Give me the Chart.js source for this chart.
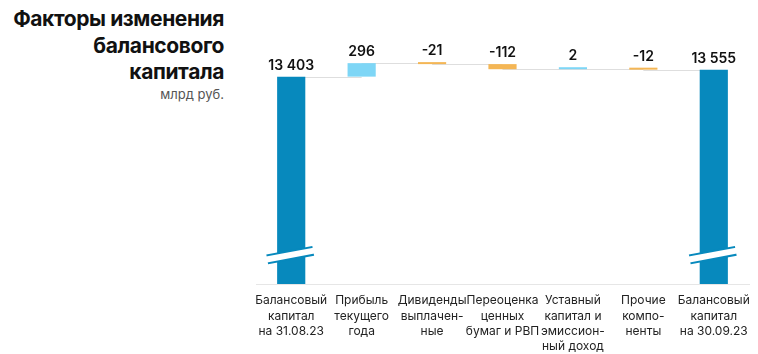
<!DOCTYPE html>
<html>
<head>
<meta charset="utf-8">
<script src="https://cdn.jsdelivr.net/npm/chart.js@4"></script>
<style>
  html, body { margin: 0; padding: 0; background: #fff; }
  #wrap { position: relative; width: 758px; height: 354px; }
  #title { position: absolute; right: 534px; top: 6px; text-align: right; white-space: nowrap;
           font: 700 21px Inter, sans-serif; line-height: 26.5px; color: #111; letter-spacing: -0.4px; }
  #unit { position: absolute; right: 534px; top: 86px; white-space: nowrap;
          font: 13px Inter, sans-serif; color: #555; }
  canvas { position: absolute; left: 0; top: 0; }
</style>
</head>
<body>
<div id="wrap">
  <div id="title">Факторы изменения<br>балансового<br>капитала</div>
  <div id="unit">млрд руб.</div>
  <canvas id="myChart" width="758" height="354"></canvas>
</div>
<script>
const categories = [
  ['Балансовый', 'капитал', 'на 31.08.23'],
  ['Прибыль', 'текущего', 'года'],
  ['Дивиденды', 'выплачен-', 'ные'],
  ['Переоценка', 'ценных', 'бумаг и РВП'],
  ['Уставный', 'капитал и', 'эмиссион-', 'ный доход'],
  ['Прочие', 'компо-', 'ненты'],
  ['Балансовый', 'капитал', 'на 30.09.23']
];
const values = [13403, 296, -21, -112, 2, -12, 13555];
const isTotal = [true, false, false, false, false, false, true];
const axisMin = 8850;
const axisMax = 13900;

const totalColor = '#0789BD';
const upColor = '#7ED6F6';
const downColor = '#F4B655';

// floating ranges for the waterfall
let run = 0;
const ranges = values.map((v, i) => {
  if (isTotal[i]) { run = v; return [axisMin, v]; }
  const s = run; run += v; return [s, run];
});
const colors = values.map((v, i) => isTotal[i] ? totalColor : (v >= 0 ? upColor : downColor));

function fmt(v) {
  const s = String(Math.abs(v)).replace(/\B(?=(\d{3})+(?!\d))/g, ' ');
  return (v < 0 ? '-' : '') + s;
}

const waterfallExtras = {
  id: 'waterfallExtras',
  beforeDatasetsDraw(chart) {
    const ctx = chart.ctx;
    const y = chart.scales.y;
    const bars = chart.getDatasetMeta(0).data;
    ctx.save();
    ctx.strokeStyle = '#dedede';
    ctx.lineWidth = 1;
    for (let i = 0; i < bars.length - 1; i++) {
      const py = Math.round(y.getPixelForValue(ranges[i][1])) + 0.5;
      ctx.beginPath();
      ctx.moveTo(bars[i].x, py);
      ctx.lineTo(bars[i + 1].x, py);
      ctx.stroke();
    }
    ctx.restore();
  },
  afterDatasetsDraw(chart) {
    const ctx = chart.ctx;
    const bars = chart.getDatasetMeta(0).data;
    const bottom = chart.chartArea.bottom;
    ctx.save();
    // value labels
    ctx.font = '600 14px Inter, sans-serif';
    ctx.fillStyle = '#111';
    ctx.textAlign = 'center';
    ctx.textBaseline = 'bottom';
    bars.forEach((b, i) => {
      const top = Math.min(b.y, b.base);
      ctx.fillText(fmt(values[i]), b.x, top - 4);
    });
    // axis break marks on the total bars
    bars.forEach((b, i) => {
      if (!isTotal[i]) return;
      const x0 = b.x - 24, y0 = bottom - 24.7;
      const x1 = b.x + 22, y1 = bottom - 33.2;
      ctx.lineCap = 'butt';
      ctx.strokeStyle = totalColor;
      ctx.lineWidth = 10;
      ctx.beginPath(); ctx.moveTo(x0, y0); ctx.lineTo(x1, y1); ctx.stroke();
      ctx.strokeStyle = '#fff';
      ctx.lineWidth = 6;
      ctx.beginPath(); ctx.moveTo(x0 - 2, y0 + 0.4); ctx.lineTo(x1 + 2, y1 - 0.4); ctx.stroke();
    });
    ctx.restore();
  }
};

const myChart = new Chart(document.getElementById('myChart'), {
  type: 'bar',
  data: {
    labels: categories,
    datasets: [{
      data: ranges,
      backgroundColor: colors,
      borderWidth: 0,
      barPercentage: 0.4,
      categoryPercentage: 1,
      minBarLength: 2
    }]
  },
  options: {
    responsive: false,
    animation: false,
    layout: { padding: { left: 256, right: 9, top: 54, bottom: 0 } },
    plugins: { legend: { display: false }, tooltip: { enabled: false } },
    scales: {
      x: {
        afterFit(scale) { scale.height = 70; },
        grid: { display: false },
        border: { display: true, color: '#e6e6e6', width: 1 },
        ticks: {
          autoSkip: false, maxRotation: 0, padding: 1, color: '#222',
          font: { family: 'Inter, sans-serif', size: 12, lineHeight: 1.28 }
        }
      },
      y: { display: false, min: axisMin, max: axisMax }
    }
  },
  plugins: [waterfallExtras]
});
</script>
</body>
</html>
